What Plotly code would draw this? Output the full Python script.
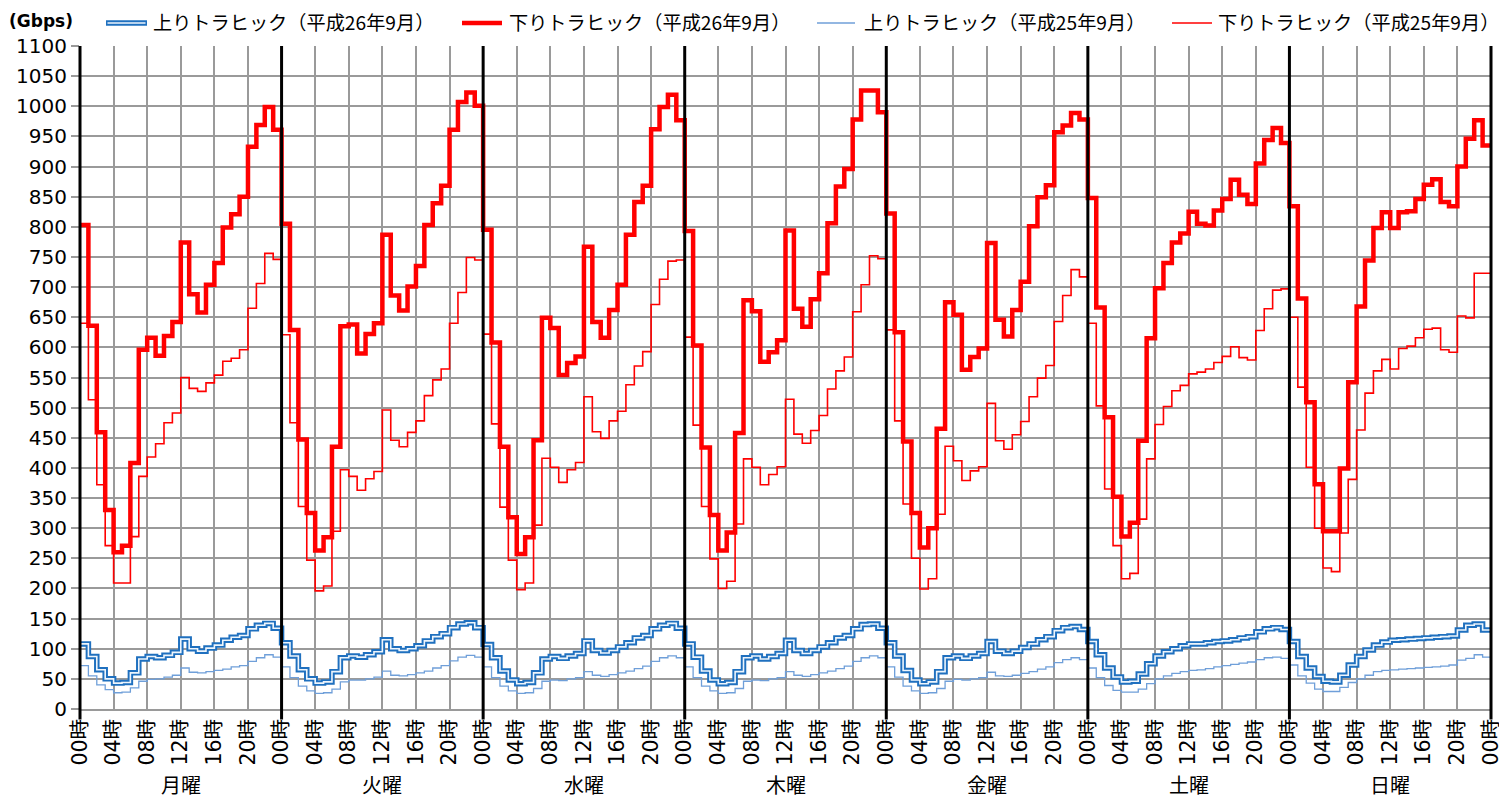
import plotly.graph_objects as go

# Hourly traffic (Gbps), Monday 00h .. Sunday 23h, 24 values per day
days = ["月曜", "火曜", "水曜", "木曜", "金曜", "土曜", "日曜"]
hour_labels = ["00時", "04時", "08時", "12時", "16時", "20時"]

down_h26 = [
    803, 636, 459, 330, 260, 271, 408, 596, 616, 586, 619, 642, 774, 688, 658, 704, 740, 799, 821, 850, 933, 969, 999, 961,
    805, 629, 447, 325, 263, 285, 435, 635, 638, 590, 622, 640, 787, 686, 661, 701, 735, 803, 839, 868, 961, 1007, 1023, 1001,
    795, 608, 435, 318, 257, 285, 446, 649, 632, 554, 574, 585, 767, 642, 616, 662, 704, 787, 841, 868, 962, 999, 1019, 977,
    793, 603, 434, 322, 263, 293, 458, 678, 660, 576, 592, 612, 794, 664, 634, 680, 723, 806, 867, 896, 978, 1026, 1026, 990,
    822, 625, 444, 325, 268, 300, 465, 675, 654, 563, 584, 598, 773, 646, 618, 662, 709, 801, 849, 869, 957, 968, 989, 978,
    848, 666, 484, 352, 286, 309, 445, 615, 698, 740, 774, 789, 825, 805, 802, 827, 846, 878, 853, 838, 905, 944, 964, 939,
    834, 681, 509, 373, 295, 295, 399, 542, 668, 744, 798, 824, 798, 824, 826, 846, 870, 879, 841, 834, 900, 946, 977, 935,
]

down_h25 = [
    640, 513, 372, 271, 209, 209, 286, 386, 418, 440, 475, 491, 550, 532, 527, 541, 554, 577, 582, 596, 665, 706, 756, 746,
    621, 475, 336, 247, 196, 204, 295, 397, 386, 363, 382, 394, 496, 446, 435, 459, 478, 520, 546, 564, 640, 691, 749, 745,
    622, 473, 335, 247, 198, 209, 305, 416, 401, 376, 397, 409, 518, 460, 449, 478, 494, 538, 569, 593, 671, 713, 743, 745,
    617, 471, 336, 249, 200, 212, 307, 415, 401, 372, 389, 402, 514, 456, 441, 462, 487, 531, 561, 584, 659, 704, 752, 747,
    629, 478, 340, 250, 199, 216, 323, 436, 412, 379, 395, 402, 507, 445, 431, 455, 477, 518, 549, 570, 643, 686, 729, 717,
    640, 503, 365, 271, 216, 225, 315, 415, 472, 502, 528, 537, 556, 559, 564, 575, 585, 601, 583, 579, 628, 664, 695, 697,
    650, 534, 401, 300, 234, 228, 292, 381, 463, 524, 561, 580, 564, 598, 602, 616, 630, 632, 596, 592, 652, 649, 723, 723,
]

up_h26 = [
    108, 87, 65, 50, 43, 44, 60, 83, 87, 85, 89, 94, 116, 100, 96, 101, 106, 114, 119, 122, 133, 139, 142, 134,
    110, 88, 65, 50, 43, 45, 62, 85, 88, 86, 90, 95, 115, 100, 97, 100, 105, 113, 120, 125, 135, 141, 143, 135,
    107, 85, 63, 48, 42, 44, 60, 83, 87, 84, 88, 92, 113, 97, 93, 97, 103, 110, 118, 122, 133, 139, 142, 134,
    108, 86, 63, 48, 42, 44, 62, 85, 88, 83, 87, 92, 114, 97, 92, 97, 103, 110, 118, 122, 133, 140, 141, 134,
    110, 88, 64, 48, 42, 45, 62, 85, 88, 84, 88, 92, 112, 96, 92, 96, 102, 108, 115, 120, 130, 135, 137, 132,
    112, 90, 68, 53, 45, 46, 58, 75, 88, 95, 100, 105, 108, 108, 110, 112, 113, 115, 118, 120, 128, 133, 135, 132,
    112, 87, 68, 54, 46, 45, 56, 73, 87, 98, 106, 111, 114, 115, 116, 117, 118, 119, 120, 121, 131, 139, 141, 131,
]

up_h25 = [
    72, 55, 40, 32, 27, 28, 35, 46, 49, 50, 53, 56, 68, 61, 60, 62, 64, 66, 70, 72, 79, 85, 90, 86,
    70, 52, 38, 30, 26, 27, 33, 45, 48, 48, 50, 53, 63, 56, 55, 57, 60, 63, 68, 72, 80, 86, 89, 86,
    70, 52, 38, 30, 26, 27, 34, 46, 48, 47, 50, 52, 62, 56, 54, 57, 60, 63, 67, 71, 79, 85, 88, 85,
    70, 52, 38, 30, 26, 27, 34, 46, 48, 47, 50, 52, 62, 56, 54, 57, 60, 63, 67, 71, 79, 85, 88, 85,
    70, 53, 38, 30, 26, 27, 34, 46, 49, 48, 50, 52, 61, 55, 54, 56, 59, 62, 66, 70, 77, 82, 85, 82,
    68, 52, 39, 31, 28, 28, 33, 42, 50, 55, 59, 62, 64, 65, 67, 70, 72, 74, 76, 78, 82, 85, 86, 84,
    73, 55, 43, 33, 29, 29, 36, 44, 50, 56, 62, 64, 65, 66, 67, 68, 69, 70, 71, 73, 81, 84, 90, 86,
]

legend_names = [
    "上りトラヒック（平成26年9月）",
    "下りトラヒック（平成26年9月）",
    "上りトラヒック（平成25年9月）",
    "下りトラヒック（平成25年9月）",
]

W, H = 1499, 798
L, R, T, B = 80, 8, 46, 89
n_hours = len(days) * 24
CJK = "Noto Sans CJK JP"


def px_x(p):
    return (p - L) / (W - L - R)


def px_y(p):
    return (H - B - p) / (H - T - B)


def step(values):
    # hv steps: each hourly value holds for one hour; repeat the last one to close the week
    return list(range(n_hours + 1)), list(values) + [values[-1]]


BLUE = "#1f70bf"
BLUE_INNER = "#eef5fc"
BLUE_LIGHT = "#6f9fd9"
RED = "#ff0000"

fig = go.Figure()

x, y = step(up_h26)
fig.add_trace(go.Scatter(x=x, y=y, mode="lines", line=dict(color=BLUE, width=5.5, shape="hv"),
                         name=legend_names[0], showlegend=False, hoverinfo="skip"))
fig.add_trace(go.Scatter(x=x, y=y, mode="lines", line=dict(color=BLUE_INNER, width=1.6, shape="hv"),
                         name=legend_names[0], showlegend=False))
x, y = step(down_h26)
fig.add_trace(go.Scatter(x=x, y=y, mode="lines", line=dict(color=RED, width=4.5, shape="hv"),
                         name=legend_names[1], showlegend=False))
x, y = step(up_h25)
fig.add_trace(go.Scatter(x=x, y=y, mode="lines", line=dict(color=BLUE_LIGHT, width=1.3, shape="hv"),
                         name=legend_names[2], showlegend=False))
x, y = step(down_h25)
fig.add_trace(go.Scatter(x=x, y=y, mode="lines", line=dict(color=RED, width=1.6, shape="hv"),
                         name=legend_names[3], showlegend=False))

tickvals = list(range(0, n_hours + 1, 4))
ticktext = [hour_labels[(v % 24) // 4] for v in tickvals]

shapes = []
annotations = []

# thick black day separators
for d in range(len(days) + 1):
    shapes.append(dict(type="line", xref="paper", yref="paper",
                       x0=d / len(days), x1=d / len(days), y0=-0.016, y1=1,
                       line=dict(color="black", width=3)))

# day names under the hour labels
for d, name in enumerate(days):
    annotations.append(dict(text=name, xref="x", yref="paper", x=d * 24 + 12, y=px_y(784),
                            xanchor="center", yanchor="middle", showarrow=False,
                            font=dict(family=CJK, size=20, color="black")))

# unit label
annotations.append(dict(text="<b>(Gbps)</b>", xref="paper", yref="paper", x=px_x(7), y=px_y(21),
                        xanchor="left", yanchor="middle", showarrow=False,
                        font=dict(family="DejaVu Sans", size=17, color="black")))

# legend drawn across the top
legend_items = [
    (106, 147, 151, "double"),
    (462, 502, 507, "thick"),
    (817, 855, 862, "thin_blue"),
    (1172, 1212, 1216, "thin_red"),
]
ly = px_y(23)
for (x0, x1, tx, style), label in zip(legend_items, legend_names):
    if style == "double":
        shapes.append(dict(type="line", xref="paper", yref="paper", x0=px_x(x0), x1=px_x(x1), y0=ly, y1=ly,
                           line=dict(color=BLUE, width=5.5)))
        shapes.append(dict(type="line", xref="paper", yref="paper", x0=px_x(x0 + 1.5), x1=px_x(x1 - 1.5), y0=ly, y1=ly,
                           line=dict(color=BLUE_INNER, width=1.6)))
    elif style == "thick":
        shapes.append(dict(type="line", xref="paper", yref="paper", x0=px_x(x0), x1=px_x(x1), y0=ly, y1=ly,
                           line=dict(color=RED, width=4.5)))
    elif style == "thin_blue":
        shapes.append(dict(type="line", xref="paper", yref="paper", x0=px_x(x0), x1=px_x(x1), y0=ly, y1=ly,
                           line=dict(color=BLUE_LIGHT, width=1.3)))
    else:
        shapes.append(dict(type="line", xref="paper", yref="paper", x0=px_x(x0), x1=px_x(x1), y0=ly, y1=ly,
                           line=dict(color=RED, width=1.6)))
    annotations.append(dict(text=label, xref="paper", yref="paper", x=px_x(tx), y=px_y(22),
                            xanchor="left", yanchor="middle", showarrow=False,
                            font=dict(family=CJK, size=19.2, color="black")))

fig.update_layout(
    width=W, height=H,
    margin=dict(l=L, r=R, t=T, b=B, pad=0, autoexpand=False),
    paper_bgcolor="white", plot_bgcolor="white",
    showlegend=False,
    shapes=shapes,
    annotations=annotations,
    xaxis=dict(range=[0, n_hours], tickmode="array", tickvals=tickvals, ticktext=ticktext,
               tickangle=-90, showgrid=True, gridcolor="#9a9a9a", gridwidth=1.5,
               zeroline=False, showline=True, linecolor="#9a9a9a", linewidth=1.5,
               ticks="", ticklabeloverflow="allow", automargin=False,
               tickfont=dict(family="DejaVu Sans, " + CJK, size=20.5, color="black")),
    yaxis=dict(range=[0, 1100], dtick=50, showgrid=True, gridcolor="#9a9a9a", gridwidth=1.5,
               zeroline=False, showline=False, ticks="outside", ticklen=8, tickcolor="#9a9a9a",
               tickwidth=1.5, automargin=False,
               tickfont=dict(family="DejaVu Sans", size=20, color="black")),
)

fig.write_html("out.html")
